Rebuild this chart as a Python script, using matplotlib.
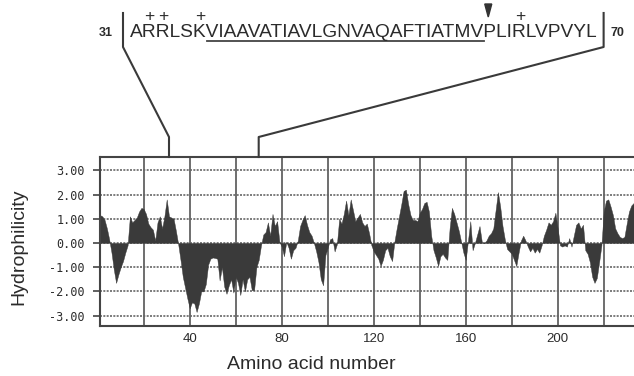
import matplotlib.pyplot as plt
from matplotlib.lines import Line2D
from matplotlib.patches import Polygon

# hydrophilicity profile, one value per residue
residues = list(range(1, 235))
hydro = [
    1.15, 1.10, 0.95, 0.60, 0.15, -0.40, -1.10, -1.65, -1.30, -1.00,      # 1-10
    -0.75, -0.40, -0.10, 1.10, 0.85, 0.95, 1.05, 1.30, 1.45, 1.40,        # 11-20
    1.20, 0.80, 0.65, 0.55, 0.10, 0.85, 1.10, 0.60, 1.10, 1.80,           # 21-30
    1.10, 1.05, 1.00, 0.50, -0.05, -0.70, -1.40, -1.85, -2.30, -2.70,     # 31-40
    -2.45, -2.50, -2.85, -2.50, -2.00, -2.00, -1.70, -0.90, -0.65, -0.60, # 41-50
    -0.62, -0.65, -1.55, -1.00, -1.80, -2.10, -1.75, -1.50, -2.05, -1.40, # 51-60
    -1.65, -2.15, -1.50, -2.00, -1.50, -1.40, -1.95, -1.95, -1.00, -0.70, # 61-70
    -0.10, 0.35, 0.45, 0.85, 0.30, 1.20, 0.70, 0.90, 0.05, -0.15,         # 71-80
    -0.55, 0.05, -0.20, -0.65, -0.30, -0.20, 0.10, 0.70, 0.95, 1.15,      # 81-90
    0.75, 0.45, 0.30, 0.00, -0.35, -0.80, -1.50, -1.75, -0.50, -0.20,     # 91-100
    0.15, 0.20, -0.35, -0.05, 1.00, 0.80, 1.20, 1.75, 1.15, 1.80,         # 101-110
    1.35, 0.90, 1.05, 1.20, 0.85, 0.70, 0.80, 0.40, -0.10, -0.35,         # 111-120
    -0.50, -0.65, -0.95, -0.70, -0.30, -0.20, -0.55, -0.75, 0.05, 0.60,   # 121-130
    1.10, 1.60, 2.15, 2.20, 1.60, 1.15, 0.95, 0.95, 0.90, 1.25,           # 131-140
    1.40, 1.65, 1.70, 1.30, 0.30, -0.30, -0.60, -0.95, -0.55, -0.45,      # 141-150
    -0.60, -0.70, 0.60, 1.45, 1.20, 0.85, 0.50, 0.05, -0.40, -0.70,       # 151-160
    0.10, 0.90, -0.30, 0.00, 0.35, 0.70, 0.05, 0.00, 0.10, 0.30,          # 161-170
    0.40, 0.60, 1.35, 2.10, 1.50, 0.70, 0.15, -0.25, -0.35, -0.45,        # 171-180
    -0.70, -0.95, -0.40, 0.10, 0.30, 0.10, -0.15, -0.35, -0.20, -0.40,    # 181-190
    -0.25, -0.40, -0.10, 0.30, 0.55, 0.85, 0.75, 0.90, 1.25, 0.60,        # 191-200
    -0.10, -0.15, -0.10, -0.15, 0.20, -0.15, 0.30, 0.75, 0.85, 0.60,      # 201-210
    0.75, -0.30, -0.45, -0.80, -1.40, -1.65, -1.45, -0.80, -0.10, 1.30,   # 211-220
    1.75, 1.80, 1.50, 1.15, 0.60, 0.40, 0.25, 0.20, 0.25, 0.80,           # 221-230
    1.30, 1.55, 1.65, 1.70,                                               # 231-234
]

# residues 31-70 shown above the plot
seq = "ARRLSKVIAAVATIAVLGNVAQAFTIATMVPLIRLVPVYL"
seq_start = 31
seq_end = 70
plus_idx = [1, 2, 5, 33]      # positively charged residues
under_from, under_to = 6, 29  # underlined hydrophobic stretch
cleave_idx = 30               # arrowhead before this residue

W, H = 634, 376
ink = '#2b2b2b'

fig = plt.figure(figsize=(W / 100, H / 100), dpi=100)
fig.patch.set_facecolor('white')

ax = fig.add_axes([100 / W, 50 / H, 249 * 2.3 / W, 169 / H])
ax.fill_between(residues, 0, hydro, color='#3a3a3a', lw=0.3, edgecolor='#3a3a3a')
ax.set_xlim(1, 250)
ax.set_ylim(-3.43, 3.55)

xt = list(range(20, 250, 20))
ax.set_xticks(xt)
ax.set_xticklabels([str(v) if v % 40 == 0 and v <= 200 else '' for v in xt],
                   fontsize=9.5, family='Liberation Sans', color=ink)
yt = [-3, -2, -1, 0, 1, 2, 3]
ax.set_yticks(yt)
ax.set_yticklabels([f"{v:.2f}" for v in yt], fontsize=8.5,
                   family='DejaVu Sans Mono', color=ink)
ax.tick_params(axis='x', length=0, pad=5)
ax.tick_params(axis='y', length=5, width=1.2, color='#444', pad=6)

ax.grid(axis='x', color='#555555', lw=1.2, ls='-')
ax.grid(axis='y', color='#666666', lw=1.2, ls=(0, (1.2, 0.8)))
ax.set_axisbelow(True)
for s in ['left', 'bottom', 'top']:
    ax.spines[s].set_color('#444444')
    ax.spines[s].set_linewidth(1.5)
ax.spines['right'].set_visible(False)

ax.set_xlabel('Amino acid number', fontsize=14, family='Liberation Sans', color=ink)
ax.xaxis.set_label_coords((311 - 100) / 573, -(356 - 326) / 169)
ax.set_ylabel('Hydrophilicity', fontsize=14, family='Liberation Sans', color=ink)
ax.yaxis.set_label_coords(-(100 - 27) / 573, 0.47)

# =========================================================
# SEQUENCE ANNOTATION
# =========================================================

def fy(px_from_top):
    return 1 - px_from_top / H

base_y = 37
seq_txt = fig.text(130 / W, fy(base_y), seq, fontsize=13.8, family='Liberation Sans',
                   va='baseline', ha='left', color=ink)
fig.canvas.draw()
rend = fig.canvas.get_renderer()
prop = seq_txt.get_fontproperties()
bb = seq_txt.get_window_extent(rend)


def px_width(s):
    if not s:
        return 0.0
    return rend.get_text_width_height_descent(s, prop, ismath=False)[0]


def char_left(i):
    return bb.x0 + px_width(seq[:i])


def char_right(i):
    return bb.x0 + px_width(seq[:i + 1])


for i in plus_idx:
    cx = (char_left(i) + char_right(i)) / 2
    fig.text(cx / W, fy(21), '+', fontsize=12.5, family='Liberation Sans',
             ha='center', va='baseline', color=ink)

# underline
fig.add_artist(Line2D([char_left(under_from) / W, char_right(under_to) / W],
                      [fy(40.5), fy(40.5)], color='#444444', lw=1.3,
                      transform=fig.transFigure))

# cleavage arrowhead
tx = char_left(cleave_idx) + 4
fig.add_artist(Polygon([[(tx - 3.5) / W, fy(4)], [(tx + 3.5) / W, fy(4)], [tx / W, fy(17)]],
                       closed=True, color='#333333', transform=fig.transFigure))

left_br = bb.x0 - 7
right_br = bb.x1 + 6
fig.text((left_br - 10) / W, fy(base_y - 1), str(seq_start), fontsize=9, fontweight='bold',
         family='Liberation Sans', ha='right', va='baseline', color=ink)
fig.text((right_br + 7) / W, fy(base_y - 1), str(seq_end), fontsize=9, fontweight='bold',
         family='Liberation Sans', ha='left', va='baseline', color=ink)

x31 = ax.transData.transform((seq_start, 0))[0]
x70 = ax.transData.transform((seq_end, 0))[0]
ax_top = H - ax.get_window_extent(rend).y1

for bx, dx in [(left_br, x31), (right_br, x70)]:
    xs = [bx, bx, dx, dx]
    ys = [13, 47, 137, ax_top]
    fig.add_artist(Line2D([v / W for v in xs], [fy(v) for v in ys], color='#3a3a3a',
                          lw=1.5, transform=fig.transFigure))

fig.savefig('out.png', dpi=100, facecolor=fig.get_facecolor())
